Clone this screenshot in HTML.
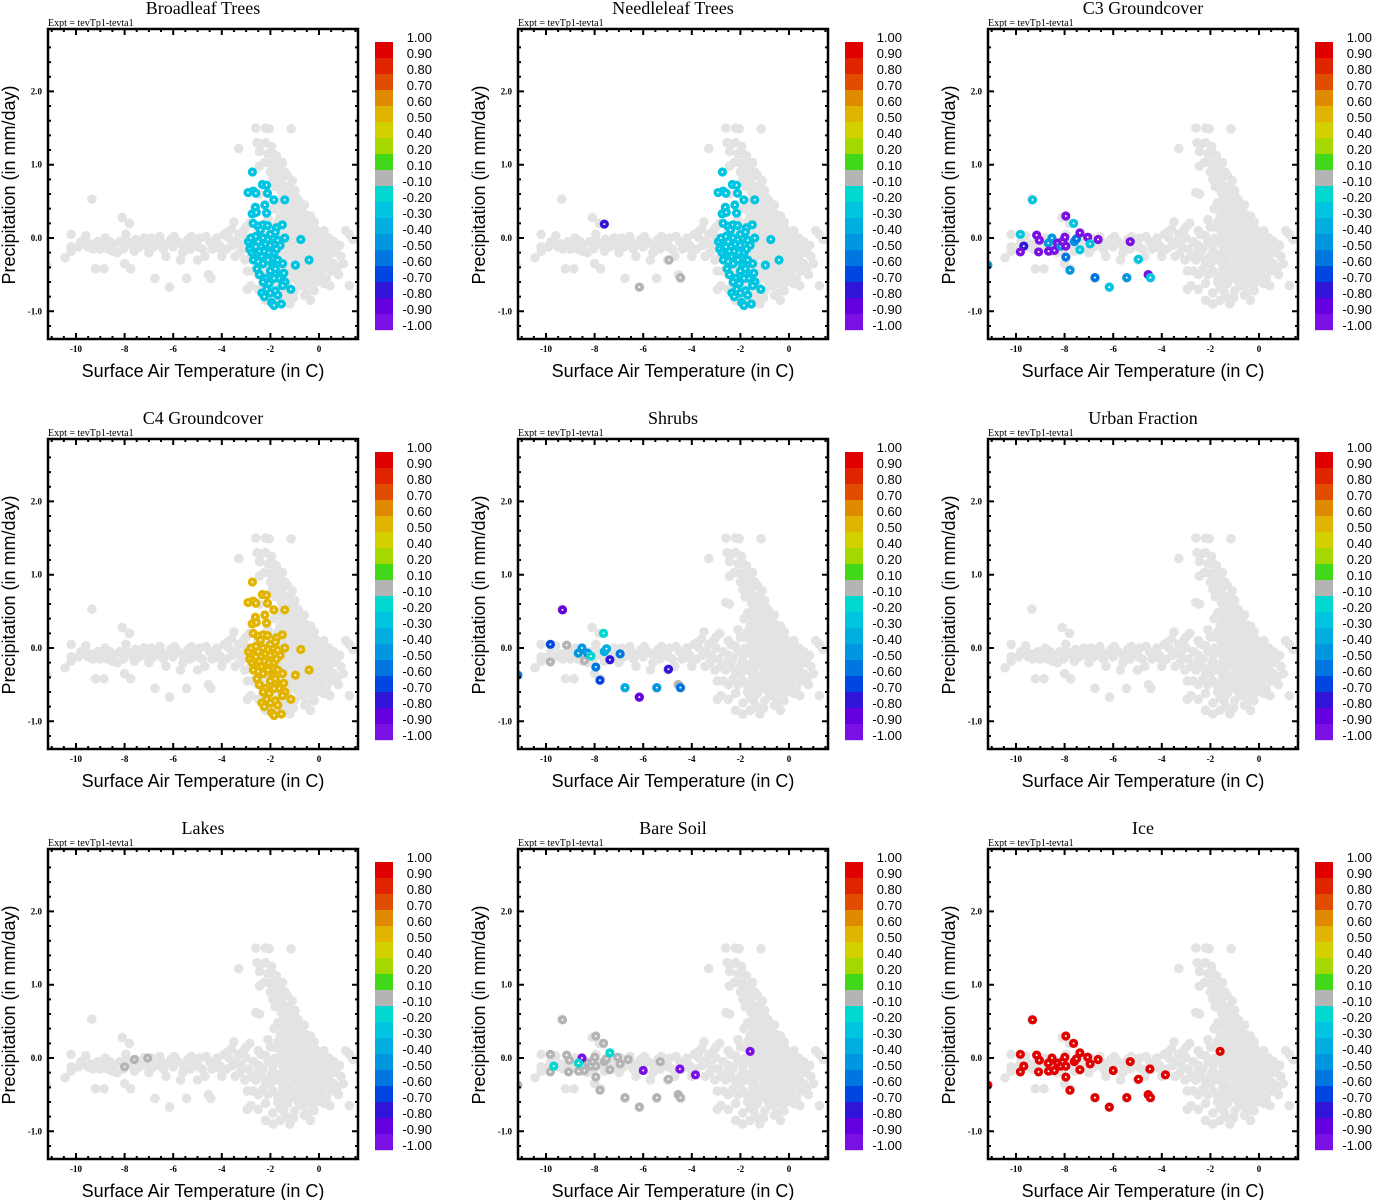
<!DOCTYPE html>
<html><head><meta charset="utf-8"><style>
body{margin:0;background:#fff;}
svg{display:block;}
.t{font-family:"Liberation Serif",serif;}
.s{font-family:"Liberation Sans",sans-serif;}
</style></head>
<body>
<svg id="c" width="1373" height="1200" xmlns="http://www.w3.org/2000/svg"></svg>
<script>
const panelTitles = ["Broadleaf Trees","Needleleaf Trees","C3 Groundcover","C4 Groundcover","Shrubs","Urban Fraction","Lakes","Bare Soil","Ice"];
const cbLabels = ["1.00","0.90","0.80","0.70","0.60","0.50","0.40","0.20","0.10","-0.10","-0.20","-0.30","-0.40","-0.50","-0.60","-0.70","-0.80","-0.90","-1.00"];
const cbBounds = [1,0.9,0.8,0.7,0.6,0.5,0.4,0.2,0.1,-0.1,-0.2,-0.3,-0.4,-0.5,-0.6,-0.7,-0.8,-0.9,-1.0];
const cbColors = ["#e00000","#e02400","#e04c00","#e08a00","#e0b400","#d4d000","#a4d800","#40d818","#b4b4b4","#00d8d0","#00c4e0","#00aee0","#0096e0","#0076e0","#0046e0","#3014d8","#6400e0","#7a10e4"];
const xTicks = [-10,-8,-6,-4,-2,0];
const yTicks = [-1.0,0.0,1.0,2.0];
const bgPoints = [[-11.2,-0.38],[-10.45,-0.27],[-10.2,0.05],[-10.2,-0.12],[-10.2,-0.18],[-9.9,-0.12],[-9.75,-0.08],[-9.6,0.03],[-9.5,-0.12],[-9.35,0.53],[-9.3,-0.15],[-9.2,-0.42],[-9.1,-0.05],[-8.9,-0.1],[-8.85,-0.42],[-8.7,-0.15],[-8.6,-0.05],[-8.45,-0.1],[-8.3,-0.2],[-8.1,0.28],[-8.05,-0.15],[-8.0,-0.35],[-7.9,-0.05],[-7.8,0.2],[-7.75,-0.42],[-7.7,-0.1],[-7.55,-0.02],[-7.4,-0.12],[-7.3,-0.05],[-7.1,-0.1],[-7.0,-0.2],[-6.9,0.0],[-6.75,-0.55],[-6.7,-0.1],[-6.5,-0.05],[-6.4,-0.15],[-6.3,-0.25],[-6.15,-0.67],[-6.1,-0.02],[-6.0,-0.12],[-5.8,-0.05],[-5.7,-0.3],[-5.6,-0.1],[-5.45,-0.55],[-5.4,-0.02],[-5.3,-0.15],[-5.1,-0.08],[-5.0,-0.3],[-4.9,0.0],[-4.8,-0.15],[-4.7,-0.25],[-4.55,-0.5],[-4.5,-0.05],[-4.45,-0.55],[-4.4,-0.15],[-4.2,0.0],[-4.1,-0.1],[-4.0,-0.25],[-3.9,0.05],[-3.8,-0.15],[-3.7,0.0],[-3.6,0.12],[-3.55,-0.1],[-3.5,0.22],[-3.45,-0.25],[-3.3,0.05],[-3.3,1.22],[-3.2,-0.1],[-3.1,0.1],[-3.05,-0.3],[-3.0,0.0],[-2.95,-0.7],[-2.9,-0.15],[-2.85,0.2],
[-9.8,-0.05],[-9.4,-0.08],[-9.0,-0.15],[-8.8,0.0],[-8.5,-0.18],[-8.2,-0.05],[-7.95,0.05],[-7.6,-0.18],[-7.2,0.0],[-6.8,-0.12],[-6.55,0.02],[-6.2,-0.08],[-5.95,0.02],[-5.6,-0.2],[-5.25,0.02],[-4.95,-0.12],[-4.65,0.02],[-4.3,-0.08],[-4.05,-0.15],[-3.75,0.08],[-3.4,-0.05],[-3.25,-0.2],[-3.0,0.15],[-2.95,-0.45],
[-2.6,1.5],[-2.2,1.5],[-2.05,1.49],[-1.15,1.49],[-2.55,1.3],[-2.4,1.28],[-2.2,1.3],[-1.95,1.25],[-2.45,1.18],[-1.9,1.15],[-1.75,1.12],[-2.25,1.03],[-2.0,1.02],[-1.5,1.03],[-2.45,0.98],[-2.0,0.9],[-1.75,0.88],[-1.3,0.85],[-1.55,0.8],[-1.1,0.78],[-1.8,0.7],[-1.35,0.7],[-1.0,0.65],[-1.55,0.62],[-1.2,0.58],[-2.6,0.62],[-2.45,0.6],[-0.85,0.52],[-1.3,0.5],[-1.7,0.48],[-1.05,0.42],[-0.6,0.45],[-1.85,0.4],[-1.45,0.38],[-0.8,0.35],[-1.2,0.32],[-0.35,0.3],[-1.6,0.3],[-0.95,0.25],[-2.1,0.25],[-0.5,0.2],[-1.35,0.2],[-0.75,0.15],[-1.85,0.15],[-0.15,0.12],[-1.05,0.12],[-2.5,0.1],[0.05,0.05],[-0.5,0.05],[-1.5,0.06],[1.1,0.1],[1.25,0.05],[1.4,-0.02],[-0.3,0.0],[-0.9,0.0],[-2.2,0.03],
[-2.1,1.15],[-1.85,1.0],[-1.6,0.95],[-1.4,0.9],[-1.9,0.8],[-1.65,0.72],[-1.2,0.68],[-1.45,0.55],[-1.1,0.5],[-0.95,0.55],[-0.7,0.42],[-1.6,0.45],[-1.3,0.4],[-0.9,0.35],[-0.55,0.32],[-1.4,0.28],[-1.05,0.3],[-0.65,0.25],[-0.2,0.22],[-1.15,0.2],[-0.85,0.18],[-0.4,0.15],[0.2,0.1],[-1.7,0.22],[-0.6,0.1],[-1.2,0.08],[0.25,-0.05],[0.6,-0.05],[0.85,-0.1],[1.0,-0.35],[0.75,-0.4],[0.45,-0.65],[-0.2,-0.72],[-0.85,-0.6],[-1.45,-0.72],[-1.2,-0.9],[-0.35,-0.85],
[-2.0,0.15],[-1.6,0.12],[-1.0,0.05],[-0.2,0.02],[-1.6,-0.02],[-1.0,-0.15],[-0.6,-0.18],[-0.1,-0.2],[0.3,-0.2],[-1.3,-0.38],[-0.7,-0.35],[-0.2,-0.4],[0.35,-0.4],[-1.5,-0.55],[-0.95,-0.55],[-0.45,-0.55],[0.0,-0.52],[-0.6,-0.78],
[-2.7,-0.05],[-2.5,-0.1],[-2.3,-0.15],[-2.1,-0.05],[-1.9,-0.1],[-1.7,-0.05],[-1.5,-0.1],[-1.3,-0.05],[-1.1,-0.1],[-0.9,-0.08],[-0.7,-0.12],[-0.5,-0.08],[-0.3,-0.12],[-0.1,-0.08],[0.1,-0.12],[0.3,-0.1],[0.5,-0.15],[0.7,-0.2],
[-2.8,-0.25],[-2.6,-0.3],[-2.4,-0.25],[-2.2,-0.32],[-2.0,-0.25],[-1.8,-0.3],[-1.6,-0.22],[-1.4,-0.28],[-1.2,-0.22],[-1.0,-0.3],[-0.8,-0.25],[-0.6,-0.3],[-0.4,-0.22],[-0.2,-0.3],[0.0,-0.25],[0.2,-0.3],[0.4,-0.28],[0.6,-0.35],[0.9,-0.25],
[-2.7,-0.45],[-2.5,-0.5],[-2.3,-0.42],[-2.1,-0.5],[-1.9,-0.45],[-1.7,-0.52],[-1.5,-0.42],[-1.3,-0.5],[-1.1,-0.45],[-0.9,-0.5],[-0.7,-0.42],[-0.5,-0.48],[-0.3,-0.52],[-0.1,-0.45],[0.1,-0.5],[0.3,-0.55],[0.5,-0.45],[0.8,-0.5],
[-2.8,-0.65],[-2.5,-0.7],[-2.2,-0.62],[-1.9,-0.75],[-1.6,-0.68],[-1.3,-0.62],[-1.0,-0.72],[-0.7,-0.65],[-0.4,-0.62],[-0.1,-0.6],[0.2,-0.62],[1.25,-0.65],
[-2.2,-0.85],[-1.9,-0.9],[-1.6,-0.85],[-1.05,-0.82],[-0.5,-0.75],[-1.35,-0.8],
[-2.0,-0.35],[-1.5,-0.35],[-0.9,-0.38],[-0.4,-0.38],[0.1,-0.38],
[-2.4,0.05],[-1.8,0.0],[-1.2,0.02],[-0.6,-0.02],[0.0,-0.02],[0.4,0.0],
[-1.4,0.12],[-0.8,0.08],[-0.3,0.1],[-1.9,-0.18],[-1.4,-0.15],[-0.9,-0.18],[-0.4,-0.17],[0.1,-0.18],[-2.5,-0.18],
[-1.7,-0.6],[-1.2,-0.55],[-0.75,-0.55],[-0.25,-0.42]];
const treeXY = [[-2.74,0.9],[-2.92,0.62],[-2.71,0.64],[-2.6,0.61],[-2.33,0.73],[-2.16,0.72],[-2.12,0.61],[-1.86,0.52],[-1.41,0.52],[-2.62,0.42],[-2.23,0.45],[-2.75,0.33],[-2.58,0.35],[-2.16,0.34],[-2.71,0.2],[-2.51,0.16],[-2.3,0.18],[-2.12,0.17],[-2.41,0.11],[-1.75,0.14],[-1.51,0.18],[-1.41,0.0],[-0.75,-0.02],[-0.41,-0.3],[-0.97,-0.37],[-1.16,-0.7],
[-2.9,-0.05],[-2.8,0.0],[-2.7,-0.1],[-2.6,0.02],[-2.5,-0.05],[-2.4,-0.12],[-2.3,0.0],[-2.2,-0.08],[-2.1,-0.02],[-2.0,-0.1],[-1.9,0.0],[-1.8,-0.08],[-1.7,-0.03],[-1.6,-0.1],[-2.85,-0.15],[-2.75,-0.2],[-2.65,-0.15],[-2.55,-0.22],[-2.45,-0.18],[-2.35,-0.25],[-2.25,-0.18],[-2.15,-0.25],[-2.05,-0.2],[-1.95,-0.28],[-1.85,-0.2],[-1.75,-0.15],[-2.7,-0.3],[-2.5,-0.32],[-2.3,-0.35],[-2.1,-0.3],[-1.9,-0.38],[-1.7,-0.3],[-1.5,-0.35],[-2.6,-0.12],[-2.0,0.05],[-1.8,0.08],
[-2.0,-0.45],[-1.8,-0.42],[-1.6,-0.5],[-1.45,-0.48],[-1.4,-0.6],[-1.5,-0.65],[-1.65,-0.55],[-1.85,-0.55],[-2.2,-0.55],[-2.3,-0.6],[-2.05,-0.62],[-2.15,-0.7],[-2.0,-0.75],[-1.8,-0.72],[-1.7,-0.78],[-2.35,-0.75],[-2.25,-0.8],[-1.95,-0.88],[-1.85,-0.92],[-1.55,-0.9],[-2.45,-0.5],[-2.55,-0.42]];
const broadleafVal = -0.25;
const c4Val = 0.55;
const needleExtra = [[-7.6,0.19,-0.75],[-4.94,-0.3,0],[-6.16,-0.67,0],[-4.47,-0.54,0]];
const c3Pts = [[-9.32,0.52,-0.25],[-9.82,0.05,-0.25],[-9.68,-0.11,-0.75],[-9.82,-0.19,-0.95],[-9.15,0.04,-0.95],[-9.04,-0.03,-0.95],[-9.07,-0.19,-0.95],[-8.67,-0.07,-0.45],[-8.66,-0.18,-0.95],[-8.52,0.0,-0.45],[-8.42,-0.17,-0.95],[-8.29,-0.07,-0.95],[-8.15,-0.11,-0.45],[-8.08,-0.05,-0.95],[-7.99,0.01,-0.95],[-7.95,0.30,-0.95],[-7.95,-0.11,-0.95],[-7.95,-0.26,-0.55],[-7.78,-0.44,-0.45],[-7.63,0.20,-0.25],[-7.60,-0.05,-0.45],[-7.51,-0.01,-0.55],[-7.37,0.07,-0.95],[-7.37,-0.16,-0.25],[-7.05,0.01,-0.95],[-6.95,-0.08,-0.25],[-6.62,-0.02,-0.95],[-6.75,-0.54,-0.55],[-6.16,-0.67,-0.25],[-5.44,-0.54,-0.5],[-5.30,-0.05,-0.95],[-4.96,-0.29,-0.3],[-4.56,-0.50,-0.95],[-4.47,-0.54,-0.3],[-11.16,-0.37,-0.5]];
const shrubPts = [[-9.32,0.52,-0.85],[-9.82,0.05,-0.65],[-9.15,0.04,0],[-9.82,-0.19,0],[-8.67,-0.07,-0.5],[-8.52,0.0,-0.5],[-8.42,-0.17,0],[-8.29,-0.07,-0.5],[-8.15,-0.11,-0.15],[-7.95,-0.26,-0.55],[-7.78,-0.44,-0.7],[-7.63,0.20,-0.15],[-7.60,-0.05,-0.35],[-7.51,-0.01,-0.35],[-7.37,-0.16,-0.75],[-6.95,-0.08,-0.6],[-6.75,-0.54,-0.4],[-6.16,-0.67,-0.85],[-5.44,-0.54,-0.45],[-4.96,-0.29,-0.8],[-4.56,-0.50,0],[-4.47,-0.54,-0.6],[-11.16,-0.37,-0.55]];
const lakePts = [[-8.0,-0.12,0],[-7.6,-0.02,0],[-7.05,0.0,0]];
const bareSoilPts = [[-9.32,0.52,0],[-9.82,0.05,0],[-9.15,0.04,0],[-9.04,-0.03,0],[-9.82,-0.19,0],[-9.07,-0.19,0],[-8.67,-0.07,0],[-8.66,-0.18,0],[-8.42,-0.17,0],[-8.29,-0.07,0],[-8.15,-0.11,0],[-8.08,-0.05,0],[-7.99,0.01,0],[-7.95,0.30,0],[-7.95,-0.11,0],[-7.95,-0.26,0],[-7.78,-0.44,0],[-7.63,0.20,0],[-7.60,-0.05,0],[-7.51,-0.01,0],[-7.37,-0.16,0],[-7.05,0.01,0],[-6.95,-0.08,0],[-6.62,-0.02,0],[-6.75,-0.54,0],[-6.16,-0.67,0],[-5.44,-0.54,0],[-5.30,-0.05,0],[-4.96,-0.29,0],[-4.56,-0.50,0],[-4.47,-0.54,0],[-11.16,-0.37,0],[-9.68,-0.11,-0.2],[-8.52,0.0,-0.95],[-8.66,-0.07,-0.2],[-7.37,0.07,-0.2],[-6.0,-0.17,-0.95],[-4.49,-0.15,-0.95],[-3.85,-0.23,-0.95],[-1.6,0.09,-0.95]];
const icePts = [[-9.32,0.52],[-9.82,0.05],[-9.15,0.04],[-9.68,-0.11],[-9.82,-0.19],[-9.07,-0.19],[-9.04,-0.03],[-8.67,-0.07],[-8.66,-0.18],[-8.52,0],[-8.42,-0.17],[-8.29,-0.07],[-8.15,-0.11],[-8.08,-0.05],[-7.99,0.01],[-7.95,0.30],[-7.95,-0.11],[-7.95,-0.26],[-7.78,-0.44],[-7.63,0.20],[-7.60,-0.05],[-7.51,-0.01],[-7.37,0.07],[-7.37,-0.16],[-7.05,0.01],[-6.95,-0.08],[-6.62,-0.02],[-6.75,-0.54],[-6.16,-0.67],[-6.0,-0.17],[-5.44,-0.54],[-5.30,-0.05],[-4.96,-0.29],[-4.56,-0.50],[-4.49,-0.15],[-4.47,-0.54],[-3.85,-0.23],[-1.60,0.09],[-11.16,-0.37]];
const iceVal = 0.95;

const panelPts = [
  treeXY.map(p=>[p[0],p[1],broadleafVal]),
  treeXY.map(p=>[p[0],p[1],broadleafVal]).concat(needleExtra),
  c3Pts,
  treeXY.map(p=>[p[0],p[1],c4Val]),
  shrubPts,
  [],
  lakePts,
  bareSoilPts,
  icePts.map(p=>[p[0],p[1],iceVal])
];

const NS="http://www.w3.org/2000/svg";
const svg=document.getElementById('c');
function mk(tag,attrs,parent){const e=document.createElementNS(NS,tag);for(const k in attrs)e.setAttribute(k,attrs[k]);(parent||svg).appendChild(e);return e;}
function colorFor(v){for(let i=0;i<18;i++){if(v>=cbBounds[i+1])return cbColors[i];}return cbColors[17];}

panelTitles.forEach((title,pi)=>{
  const ox=470*(pi%3), oy=410*Math.floor(pi/3);
  const xs=v=>ox+319+24.3*v, ys=v=>oy+238-73.3*v;
  const L=ox+48,R=ox+358,T=oy+29,B=oy+339;
  const g=mk('g',{});
  
  
  const t=mk('text',{x:ox+203,y:oy+14,'text-anchor':'middle','font-size':18,class:'t'},g);t.textContent=title;
  
  
  const ex=mk('text',{x:L,y:oy+26,'font-size':10,class:'t'},g);ex.textContent='Expt = tevTp1-tevta1';
  
  
  const cp=mk('clipPath',{id:'cp'+pi},g);mk('rect',{x:L,y:T,width:R-L,height:B-T},cp);
  const pg=mk('g',{'clip-path':'url(#cp'+pi+')'},g);
  
  
  bgPoints.forEach(p=>{
    const c=mk('circle',{cx:xs(p[0]),cy:ys(p[1]),r:4.8,fill:'#e3e3e3'},pg);
    
    
  });
  panelPts[pi].forEach(p=>{
    const c=mk('circle',{cx:xs(p[0]),cy:ys(p[1]),r:4.6,fill:colorFor(p[2])},pg);
    
    
    mk('circle',{cx:xs(p[0]),cy:ys(p[1]),r:1.0,fill:'#fff'},pg);
  });
  let d='';
  xTicks.forEach(v=>{const x=xs(v);d+=`M${x},${B}v-6M${x},${T}v6`;});
  yTicks.forEach(v=>{const y=ys(v);d+=`M${L},${y}h6M${R},${y}h-6`;});
  for(let v=-11;v<=1.5;v+=0.5){const x=xs(v);if(x>L&&x<R)d+=`M${x},${B}v-3M${x},${T}v3`;}
  for(let v=-1.2;v<=2.8;v+=0.2){const y=ys(v);if(y>T&&y<B)d+=`M${L},${y}h3M${R},${y}h-3`;}
  mk('path',{d:d,stroke:'#000','stroke-width':2,fill:'none'},g);
  const box=mk('rect',{x:L,y:T,width:R-L,height:B-T,fill:'none',stroke:'#000','stroke-width':2.5},g);
  
  
  xTicks.forEach(v=>{const tx=mk('text',{x:xs(v),y:B+13,'text-anchor':'middle','font-size':9,'font-weight':'bold',class:'t'},g);tx.textContent=String(v);
    
    });
  yTicks.forEach(v=>{const ty=mk('text',{x:L-6,y:ys(v)+3,'text-anchor':'end','font-size':9,'font-weight':'bold',class:'t'},g);ty.textContent=v.toFixed(1);
    
    });
  const xt=mk('text',{x:ox+203,y:oy+377,'text-anchor':'middle','font-size':18,class:'s'},g);xt.textContent='Surface Air Temperature (in C)';
  
  
  const yt=mk('text',{x:0,y:0,'text-anchor':'middle','font-size':18,class:'s',transform:`translate(${ox+15},${oy+185}) rotate(-90)`},g);yt.textContent='Precipitation (in mm/day)';
  
  
  const cb=mk('g',{},g);
  
  
  cbColors.forEach((col,i)=>{mk('rect',{x:ox+375,y:oy+42+16*i,width:18,height:16.2,fill:col},cb);});
  cbLabels.forEach((lab,i)=>{const tl=mk('text',{x:ox+432,y:oy+42+16*i,'text-anchor':'end','font-size':13,class:'s'},cb);tl.textContent=lab;
    
    });
});
</script>
</body></html>
